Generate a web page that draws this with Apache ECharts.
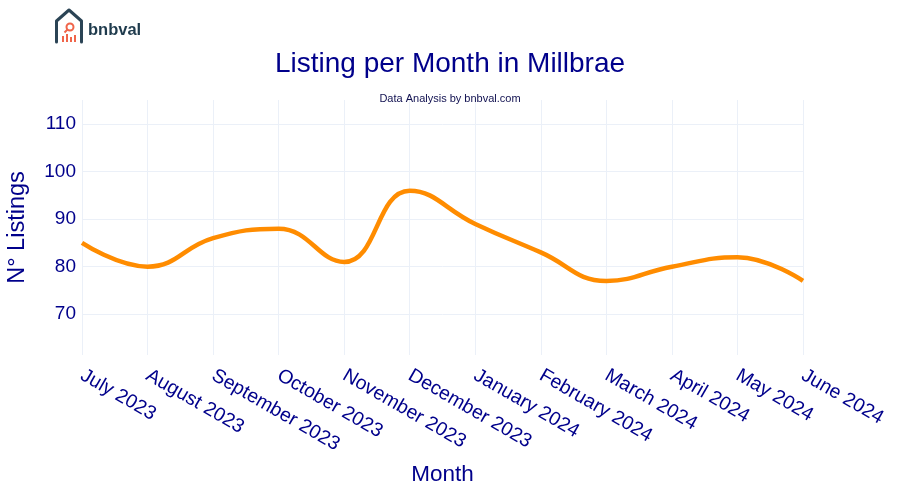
<!DOCTYPE html>
<html>
<head>
<meta charset="utf-8">
<script src="https://cdn.jsdelivr.net/npm/echarts@6/dist/echarts.min.js"></script>
<style>html,body{margin:0;padding:0;background:#fff}#c{width:900px;height:500px}</style>
</head>
<body>
<div id="c"></div>
<script>
const categories = ["July 2023","August 2023","September 2023","October 2023","November 2023","December 2023","January 2024","February 2024","March 2024","April 2024","May 2024","June 2024"];
const listings = [85, 80, 86, 88, 81, 96, 89, 83, 77, 80, 82, 77];
const yTicks = [70, 80, 90, 100, 110];

const FONT = "'Liberation Sans', Arial, sans-serif";
const NAVY = "#00008B";
const chart = echarts.init(document.getElementById('c'), null, {renderer: 'canvas'});
chart.setOption({
  backgroundColor: '#fff',
  animation: false,
  title: [
    {text: 'Listing per Month in Millbrae', left: 'center', top: 45,
     textStyle: {fontFamily: FONT, fontSize: 28, fontWeight: 'normal', color: NAVY}},
    {text: 'Data Analysis by bnbval.com', left: 'center', top: 88,
     textStyle: {fontFamily: FONT, fontSize: 11, fontWeight: 'normal', color: '#101050'}}
  ],
  grid: {left: 82, right: 97, top: 100, bottom: 145, containLabel: false, outerBoundsMode: 'none'},
  xAxis: {
    type: 'category', data: categories, boundaryGap: false,
    name: 'Month', nameLocation: 'middle', nameGap: 108,
    nameTextStyle: {fontFamily: FONT, fontSize: 22.5, color: NAVY},
    axisLine: {show: false}, axisTick: {show: false},
    axisLabel: {rotate: -30, margin: 19, fontFamily: FONT, fontSize: 19.5, color: NAVY, interval: 0},
    splitLine: {show: true, lineStyle: {color: '#EBF0F8', width: 1}}
  },
  yAxis: {
    type: 'value', min: 61.4, max: 115.1,
    name: 'N° Listings', nameLocation: 'middle', nameGap: 52,
    nameTextStyle: {fontFamily: FONT, fontSize: 23.5, color: NAVY},
    axisLine: {show: false},
    axisTick: {show: false, customValues: yTicks},
    axisLabel: {customValues: yTicks, margin: 6, fontFamily: FONT, fontSize: 19, color: NAVY},
    splitLine: {show: true, lineStyle: {color: '#EBF0F8', width: 1}}
  },
  series: [{
    type: 'line', data: listings, smooth: 0.45, symbol: 'none',
    lineStyle: {color: '#FF8C00', width: 4.5}
  }],
  graphic: [
    {type: 'polyline', shape: {points: [[56.5,42],[56.5,21],[69,10],[81.5,21],[81.5,42]]},
     style: {stroke: '#2b4455', lineWidth: 3, fill: 'none', lineJoin: 'round', lineCap: 'round'}},
    {type: 'circle', shape: {cx: 70, cy: 27, r: 3.5}, style: {stroke: '#f0654a', lineWidth: 2, fill: 'none'}},
    {type: 'line', shape: {x1: 67.5, y1: 29.5, x2: 64.5, y2: 32.5}, style: {stroke: '#f0654a', lineWidth: 2}},
    {type: 'rect', shape: {x: 62, y: 36, width: 2, height: 6}, style: {fill: '#f0654a'}},
    {type: 'rect', shape: {x: 66, y: 34, width: 2, height: 8}, style: {fill: '#f0654a'}},
    {type: 'rect', shape: {x: 70, y: 37, width: 2, height: 5}, style: {fill: '#f0654a'}},
    {type: 'rect', shape: {x: 74, y: 35, width: 2, height: 7}, style: {fill: '#f0654a'}},
    {type: 'text', left: 88, top: 22,
     style: {text: 'bnbval', font: "bold 16.5px " + FONT, fill: '#1f3b4d'}}
  ]
});
</script>
</body>
</html>
